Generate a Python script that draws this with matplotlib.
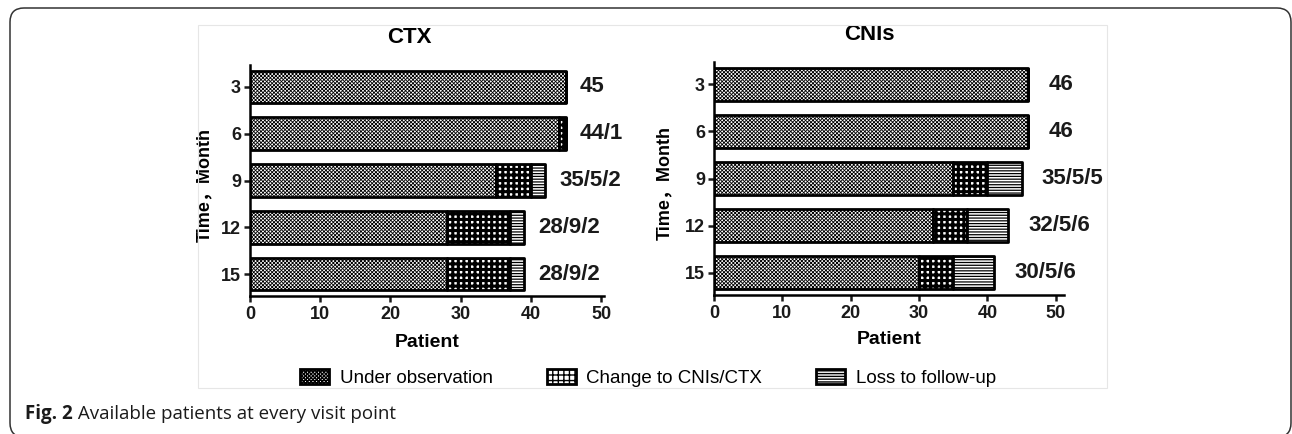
import matplotlib
matplotlib.use("Agg")
import matplotlib.pyplot as plt
import matplotlib.transforms as mtransforms
from matplotlib import font_manager
from matplotlib.patches import FancyBboxPatch, Rectangle
from matplotlib.text import Annotation

# -----------------------
# Data
# -----------------------
months = ["3", "6", "9", "12", "15"]

ctx_obs    = [45, 44, 35, 28, 28]
ctx_change = [0, 1, 5, 9, 9]
ctx_loss   = [0, 0, 2, 2, 2]
ctx_labels = ["45", "44/1", "35/5/2", "28/9/2", "28/9/2"]

cni_obs    = [46, 46, 35, 32, 30]
cni_change = [0, 0, 5, 5, 5]
cni_loss   = [0, 0, 5, 6, 6]
cni_labels = ["46", "46", "35/5/5", "32/5/6", "30/5/6"]

legend_names = ["Under observation", "Change to CNIs/CTX", "Loss to follow-up"]
x_ticks = [0, 10, 20, 30, 40, 50]

# -----------------------
# Style
# -----------------------
W, H, DPI = 1292, 434, 100
HATCHES  = ["xxxxxxxxx", "+++", "------"]
HATCH_LW = [0.6, 2.2, 0.9]

installed = {f.name for f in font_manager.fontManager.ttflist}
if "Liberation Sans Narrow" in installed:
    MAIN = "Liberation Sans Narrow"
    TICK, VAL, TITLE, XLAB, YLAB, LEG = 14, 17, 18, 16, 15, 16
else:
    MAIN = "Liberation Sans"
    TICK, VAL, TITLE, XLAB, YLAB, LEG = 13, 16, 16, 14, 13, 13.5

plt.rcParams["font.family"] = [MAIN, "Noto Sans CJK SC", "DejaVu Sans"]
plt.rcParams["font.weight"] = "bold"

fig = plt.figure(figsize=(W / DPI, H / DPI), dpi=DPI)


def px_box(x0, y_top, x1, y_bot):
    # pixel box (from top-left) -> figure fraction [l, b, w, h]
    return [x0 / W, 1 - y_bot / H, (x1 - x0) / W, (y_bot - y_top) / H]


def draw_panel(ax, obs, change, loss, labels, title, xmax, pad_px, ylab_x, xlab_y):
    y = list(range(len(months)))
    left = [0] * len(months)
    conts = []
    for vals, hatch, hlw in zip([obs, change, loss], HATCHES, HATCH_LW):
        with plt.rc_context({"hatch.linewidth": hlw}):
            c = ax.barh(y, vals, left=left, height=0.7, color="white",
                        edgecolor="black", linewidth=2.0, hatch=hatch,
                        joinstyle="round")
        for p in c:
            if hasattr(p, "set_hatch_linewidth"):
                p.set_hatch_linewidth(hlw)
        left = [a + b for a, b in zip(left, vals)]
        conts.append(c)

    # value labels right of each stacked bar
    shift = mtransforms.offset_copy(ax.transData, fig=fig, x=pad_px, y=0, units="dots")
    for yi, tot, lab in zip(y, left, labels):
        ax.text(tot, yi, lab, transform=shift, ha="left", va="center",
                fontsize=VAL, fontweight="bold", color="#1a1a1a")

    ax.set_xlim(0, xmax)
    ax.set_ylim(len(months) - 1 + 0.47, -0.47)
    ax.set_yticks(y, months)
    ax.set_xticks(x_ticks)
    for s in ["top", "right"]:
        ax.spines[s].set_visible(False)
    for s in ["left", "bottom"]:
        ax.spines[s].set_linewidth(1.8)
    ax.tick_params(axis="both", width=1.8, length=4.5, labelsize=TICK,
                   colors="#1a1a1a")
    ax.tick_params(axis="x", pad=3)
    ax.tick_params(axis="y", pad=2)

    ax.text(22.7, 1.12, title, transform=ax.get_xaxis_transform(),
            ha="center", va="center", fontsize=TITLE, fontweight="bold")
    ax.set_ylabel("Time，Month", fontsize=YLAB, fontweight="bold")
    ax.yaxis.set_label_coords(ylab_x, 0.48)
    ax.set_xlabel("Patient", fontsize=XLAB, fontweight="bold")
    ax.xaxis.set_label_coords(0.5, xlab_y)
    return conts


ax1 = fig.add_axes(px_box(250, 65, 604, 296))
conts = draw_panel(ax1, ctx_obs, ctx_change, ctx_loss, ctx_labels, "CTX",
                   50.4, 14, -0.105, -0.165)

ax2 = fig.add_axes(px_box(714, 62, 1064, 295))
draw_panel(ax2, cni_obs, cni_change, cni_loss, cni_labels, "CNIs",
           51.2, 20, -0.117, -0.155)

# legend
leg_px = LEG * DPI / 72
fig.legend(handles=conts, labels=legend_names, loc="center",
           bbox_to_anchor=(648 / W, 1 - 378 / H), ncol=3, frameon=False,
           handlelength=29 / leg_px, handleheight=15 / leg_px,
           handletextpad=11 / leg_px, columnspacing=54 / leg_px,
           prop={"family": [MAIN, "DejaVu Sans"], "weight": "normal", "size": LEG})

# caption
cap = fig.text(25 / W, 1 - 414 / H, "Fig. 2", ha="left", va="center",
               fontsize=13.5, fontweight="bold", family=["Open Sans", "DejaVu Sans"],
               color="#1a1a1a")
fig.add_artist(Annotation(" Available patients at every visit point", xy=(1, 0.5),
                          xycoords=cap, ha="left", va="center", fontsize=13.5,
                          fontweight="normal", family=["Open Sans", "DejaVu Sans"],
                          color="#1a1a1a"))

# faint border of the pasted chart image and the rounded outer frame
fig.add_artist(Rectangle((198, H - 388), 909, 363, transform=mtransforms.IdentityTransform(),
                         facecolor="none", edgecolor="#e6e6e6", linewidth=0.8))
fig.add_artist(FancyBboxPatch((10, -3), 1281, H - 8 + 3,
                              boxstyle="round,pad=0,rounding_size=14",
                              transform=mtransforms.IdentityTransform(),
                              facecolor="none", edgecolor="#333333", linewidth=1.1))

fig.savefig("out.png", dpi=DPI)
